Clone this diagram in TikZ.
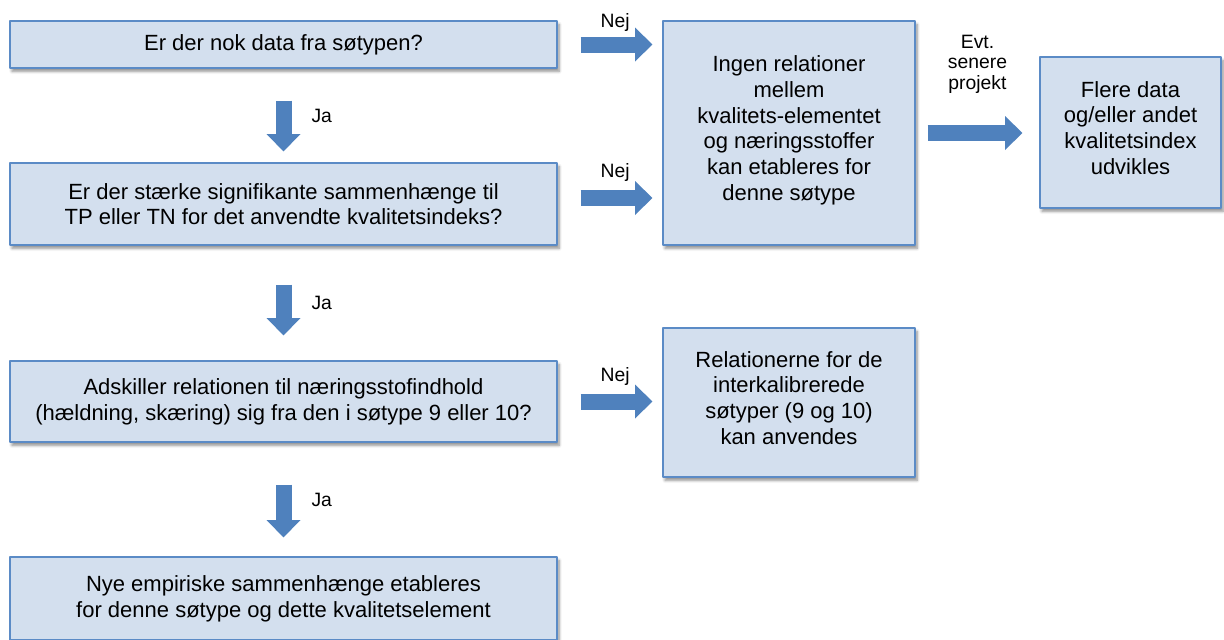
\documentclass[tikz,border=0pt]{standalone}
\usepackage{fontspec}
\setmainfont{Liberation Sans}
\usetikzlibrary{arrows.meta,shadows.blur}

\definecolor{boxfill}{RGB}{211,223,238}
\definecolor{boxline}{RGB}{91,139,198}
\definecolor{arrowblue}{RGB}{79,129,189}

\tikzset{
  box/.style={draw=boxline, line width=0.9pt, fill=boxfill, inner sep=0pt, align=center,
    font=\fontsize{16.5}{19.25}\selectfont,
    blur shadow={shadow xshift=1.5pt, shadow yshift=-2.5pt, shadow blur steps=6, shadow opacity=45}},
  fat/.style={draw=arrowblue, line width=12pt,
    -{Triangle[length=13pt, width=25.5pt, line width=0pt]}},
  lbl/.style={inner sep=0pt, align=center, font=\fontsize{14.5}{15.5}\selectfont}
}

\begin{document}
\begin{tikzpicture}[x=0.75pt, y=-0.75pt, line join=round]
	\useasboundingbox (0,0) rectangle (1224,639);
	% left column: questions
	\node[box, minimum width=410.25pt, minimum height=35.25pt] (nokdata) at (283.5,44.5)
		{Er der nok data fra søtypen?};
	\node[box, minimum width=410.25pt, minimum height=61.5pt] (sammenh) at (283.5,204)
		{Er der stærke signifikante sammenhænge til\\TP eller TN for det anvendte kvalitetsindeks?};
	\node[box, minimum width=410.25pt, minimum height=60.75pt] (adskiller) at (283.5,401.5)
		{Adskiller relationen til næringsstofindhold\\(hældning, skæring) sig fra den i søtype 9 eller 10?};
	\node[box, minimum width=410.25pt, minimum height=62.25pt] (nye) at (283.5,598.5)
		{Nye empiriske sammenhænge etableres\\for denne søtype og dette kvalitetselement};
	% right side: outcomes
	\node[box, minimum width=189pt, minimum height=168pt] (ingen) at (789,133)
		{Ingen relationer\\mellem\\kvalitets-elementet\\og næringsstoffer\\kan etableres for\\denne søtype\\[-12pt]};
	\node[box, minimum width=135.75pt, minimum height=113.25pt] (flere) at (1130.5,132.5)
		{Flere data\\og/eller andet\\kvalitetsindex\\udvikles\\[-12pt]};
	\node[box, minimum width=189pt, minimum height=111.75pt] (relat) at (789,402.5)
		{Relationerne for de\\interkalibrerede\\søtyper (9 og 10)\\kan anvendes\\[-12pt]};
	% Ja arrows
	\draw[fat, shorten <=24pt, shorten >=8.25pt] (nokdata.south) -- (sammenh.north)
		node[lbl, midway, right=15pt] {Ja};
	\draw[fat, shorten <=29.25pt, shorten >=18.75pt] (sammenh.south) -- (adskiller.north)
		node[lbl, midway, right=15pt] {Ja};
	\draw[fat, shorten <=31.5pt, shorten >=14.25pt] (adskiller.south) -- (nye.north)
		node[lbl, midway, right=15pt] {Ja};
	% Nej arrows
	\foreach \q/\r/\s/\d in {nokdata/ingen/0pt/4pt, sammenh/ingen/4.5pt/6pt, adskiller/relat/0pt/6pt}
	\draw[fat, transform canvas={yshift=\s}, shorten <=17.25pt, shorten >=7.5pt] (\q.east) -- (\r.west |- \q.east)
		node[lbl, pos=0.55, above=\d] {Nej};
	\draw[fat, shorten <=9pt, shorten >=12.75pt] (ingen.east) -- (flere.west |- ingen.east)
		node[lbl, midway, above=23.5pt] {Evt.\\senere\\projekt};
\end{tikzpicture}
\end{document}
